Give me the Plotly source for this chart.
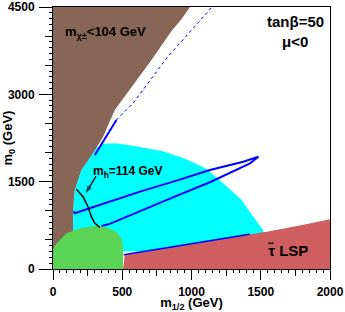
import plotly.graph_objects as go

# ---------------- data ----------------
# excluded region m_chi+- < 104 GeV (brown)
brown_x = [0, 989, 930, 856, 711, 560, 446, 362, 289, 205, 157, 145, 145, 0]
brown_y = [4500, 4500, 4300, 4089, 3590, 3100, 2732, 2273, 1988, 1700, 1357, 1013, 300, 300]

# cosmologically preferred region (cyan)
cyan_x = [289, 310, 360, 450, 600, 800, 950, 1108, 1229, 1362, 1446, 1518, 1518, 145, 145, 157, 205]
cyan_y = [1988, 2080, 2150, 2160, 2110, 2020, 1900, 1720, 1472, 1185, 899, 670, 300, 300, 1013, 1357, 1700]

# stau LSP region (red)
red_x = [506, 518, 1012, 1543, 1800, 2000, 2000, 506]
red_y = [0, 240, 441, 641, 755, 853, 0, 0]

# b -> s gamma excluded region (green)
green_x = [0, 0, 25, 49, 97, 193, 302, 386, 458, 495, 506, 506]
green_y = [0, 340, 440, 498, 613, 699, 739, 716, 641, 527, 383, 0]

# WMAP-like strips (blue)
strip_focus_x = [302, 380, 458, 578, 820, 1148]
strip_focus_y = [1958, 2260, 2560, 2847, 3620, 4500]
funnel_x = [150, 157, 265, 410, 651, 892, 1133, 1374, 1483, 1422, 1133, 892, 651, 410, 350]
funnel_y = [990, 957, 1043, 1157, 1346, 1518, 1701, 1843, 1930, 1815, 1490, 1255, 1010, 775, 740]
coann_x = [510, 800, 1000, 1200, 1420]
coann_y = [246, 360, 443, 520, 598]

# m_h = 114 GeV contour (black)
mh_x = [169, 217, 253, 277, 302, 338]
mh_y = [1369, 1242, 1070, 899, 785, 716]

# label arrow (tail -> head)
arrow_x = [310, 236]
arrow_y = [1590, 1300]

# tick values
x_ticks = [0, 500, 1000, 1500, 2000]
y_ticks = [0, 1500, 3000, 4500]

BROWN = "#876657"
CYAN = "#00FFFF"
RED = "#CF5E61"
GREEN = "#59D454"
BLUE = "#0000FF"
FONT = "Liberation Sans"

fig = go.Figure()

def area(x, y, color):
    fig.add_trace(go.Scatter(x=x, y=y, fill="toself", fillcolor=color, mode="lines",
                             line=dict(width=0, color=color), hoverinfo="skip",
                             showlegend=False))

area(cyan_x, cyan_y, CYAN)
area(brown_x, brown_y, BROWN)
area(red_x, red_y, RED)

fig.add_trace(go.Scatter(x=strip_focus_x[:3], y=strip_focus_y[:3], mode="lines",
                         line=dict(color=BLUE, width=2), hoverinfo="skip", showlegend=False))
fig.add_trace(go.Scatter(x=strip_focus_x[2:], y=strip_focus_y[2:], mode="lines",
                         line=dict(color=BLUE, width=1, dash="dot"), hoverinfo="skip", showlegend=False))
fig.add_trace(go.Scatter(x=funnel_x, y=funnel_y, mode="lines",
                         line=dict(color=BLUE, width=2), hoverinfo="skip", showlegend=False))
fig.add_trace(go.Scatter(x=coann_x, y=coann_y, mode="lines",
                         line=dict(color=BLUE, width=1.5), hoverinfo="skip", showlegend=False))

area(green_x, green_y, GREEN)

fig.add_trace(go.Scatter(x=mh_x, y=mh_y, mode="lines", line=dict(color="black", width=1.5),
                         hoverinfo="skip", showlegend=False))

# arrow from the m_h label to the contour
fig.add_trace(go.Scatter(x=arrow_x, y=arrow_y, mode="lines+markers",
                         line=dict(color="black", width=1.3),
                         marker=dict(symbol=["circle", "arrow"], size=[0, 8], angleref="previous",
                                     color="black", line=dict(width=0)),
                         hoverinfo="skip", showlegend=False))

# invisible trace to activate the overlay axes (medium ticks)
fig.add_trace(go.Scatter(x=[0], y=[0], xaxis="x2", yaxis="y2", mode="markers",
                         marker=dict(opacity=0), hoverinfo="skip", showlegend=False))

tickfont = dict(family=FONT, size=12, color="black", weight="bold")
titlefont = dict(family=FONT, size=13, color="black", weight="bold")

fig.update_layout(
    width=345, height=312,
    margin=dict(l=53, r=15, t=7, b=43, autoexpand=False),
    paper_bgcolor="white", plot_bgcolor="white",
    showlegend=False,
    xaxis=dict(range=[0, 2000], tickvals=x_ticks, ticks="outside", ticklen=10,
               tickcolor="black", tickwidth=1, showline=True, linecolor="black",
               linewidth=1, mirror=True, showgrid=False, zeroline=False,
               tickfont=tickfont, ticklabelstandoff=2, automargin=False,
               minor=dict(dtick=50, tick0=0, ticks="outside", ticklen=3,
                          tickcolor="black", showgrid=False),
               title=dict(text="m<sub>1/2</sub> (GeV)", font=titlefont, standoff=0)),
    yaxis=dict(range=[0, 4500], tickvals=y_ticks, ticks="outside", ticklen=13,
               tickcolor="black", tickwidth=1, showline=True, linecolor="black",
               linewidth=1, mirror=True, showgrid=False, zeroline=False,
               tickfont=tickfont, ticklabelstandoff=2, automargin=False,
               minor=dict(dtick=100, tick0=0, ticks="outside", ticklen=3,
                          tickcolor="black", showgrid=False),
               title=dict(text="m<sub>0</sub> (GeV)", font=titlefont, standoff=2)),
    xaxis2=dict(range=[0, 2000], overlaying="x", anchor="y", side="bottom",
                tick0=0, dtick=250, ticks="outside", ticklen=6, tickcolor="black",
                showticklabels=False, showgrid=False, zeroline=False, showline=False,
                automargin=False),
    yaxis2=dict(range=[0, 4500], overlaying="y", anchor="x", side="left",
                tick0=0, dtick=500, ticks="outside", ticklen=7, tickcolor="black",
                showticklabels=False, showgrid=False, zeroline=False, showline=False,
                automargin=False),
)

ann_font = dict(family=FONT, color="black", weight="bold")
fig.add_annotation(x=70, y=4054, xref="x", yref="y", xanchor="left", yanchor="middle",
                   text="m<sub>χ±</sub>&lt;104 GeV", showarrow=False,
                   font=dict(size=13, **ann_font))
fig.add_annotation(x=1752, y=4243, xref="x", yref="y", text="tanβ=50", showarrow=False,
                   font=dict(size=15, **ann_font))
fig.add_annotation(x=1745, y=3900, xref="x", yref="y", text="μ&lt;0", showarrow=False,
                   font=dict(size=15, **ann_font))
fig.add_annotation(x=539, y=1666, xref="x", yref="y", text="m<sub>h</sub>=114 GeV",
                   showarrow=False, font=dict(size=12, **ann_font))
fig.add_annotation(x=1700, y=326, xref="x", yref="y", text="τ\u0303 LSP", showarrow=False,
                   font=dict(size=15, **ann_font))

fig.write_html("out.html", config={"displayModeBar": False},
               post_script="document.body.style.margin='0px';")
